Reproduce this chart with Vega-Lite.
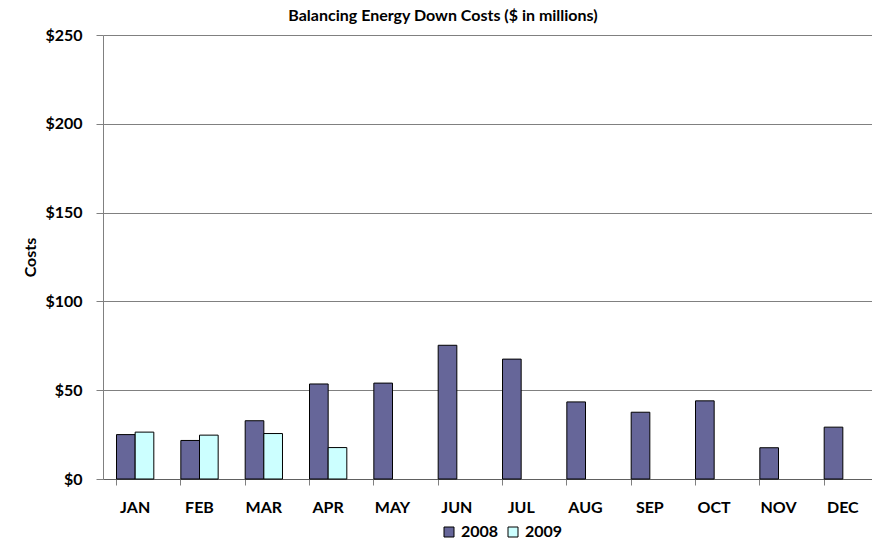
{
  "$schema": "https://vega.github.io/schema/vega-lite/v6.json",
  "autosize": "none",
  "width": 772,
  "height": 444,
  "padding": {"left": 103, "top": 35, "right": 0, "bottom": 63},
  "background": "white",
  "title": {
    "text": "Balancing Energy Down Costs ($ in millions)",
    "font": "Lato",
    "fontSize": 16,
    "fontWeight": "bold",
    "color": "black",
    "anchor": "middle",
    "dx": -46,
    "offset": 3
  },
  "data": {
    "values": [
      {"month": "JAN", "year": "2008", "cost": 25.0},
      {"month": "JAN", "year": "2009", "cost": 26.4},
      {"month": "FEB", "year": "2008", "cost": 21.7},
      {"month": "FEB", "year": "2009", "cost": 24.7},
      {"month": "MAR", "year": "2008", "cost": 32.8},
      {"month": "MAR", "year": "2009", "cost": 25.6},
      {"month": "APR", "year": "2008", "cost": 53.5},
      {"month": "APR", "year": "2009", "cost": 17.7},
      {"month": "MAY", "year": "2008", "cost": 54.0},
      {"month": "JUN", "year": "2008", "cost": 75.3},
      {"month": "JUL", "year": "2008", "cost": 67.5},
      {"month": "AUG", "year": "2008", "cost": 43.4},
      {"month": "SEP", "year": "2008", "cost": 37.6},
      {"month": "OCT", "year": "2008", "cost": 44.0},
      {"month": "NOV", "year": "2008", "cost": 17.6},
      {"month": "DEC", "year": "2008", "cost": 29.2}
    ]
  },
  "mark": {"type": "bar", "stroke": "black", "strokeWidth": 1},
  "encoding": {
    "x": {
      "field": "month",
      "type": "nominal",
      "sort": ["JAN","FEB","MAR","APR","MAY","JUN","JUL","AUG","SEP","OCT","NOV","DEC"],
      "scale": {"paddingInner": 0.42, "paddingOuter": 0.21},
      "axis": {
        "title": null,
        "labelAngle": 0,
        "bandPosition": 0,
        "labelFont": "Lato",
        "labelFontSize": 16,
        "labelFontWeight": "bold",
        "labelColor": "black",
        "labelPadding": 14,
        "tickColor": "#808080",
        "tickSize": 6,
        "domainColor": "#606060",
        "grid": false
      }
    },
    "xOffset": {"field": "year", "type": "nominal", "scale": {"paddingInner": 0, "paddingOuter": 0}},
    "y": {
      "field": "cost",
      "type": "quantitative",
      "scale": {"domain": [0, 250], "nice": false},
      "axis": {
        "title": "Costs",
        "titleFont": "Lato",
        "titleFontSize": 16,
        "titleFontWeight": "bold",
        "titleColor": "black",
        "titlePadding": 6,
        "values": [0, 50, 100, 150, 200, 250],
        "format": "$.0f",
        "labelFont": "Lato",
        "labelFontSize": 16,
        "labelFontWeight": "bold",
        "labelColor": "black",
        "labelPadding": 14,
        "tickColor": "#808080",
        "tickSize": 7,
        "domainColor": "#808080",
        "grid": true,
        "gridColor": "#808080",
        "gridWidth": 1
      }
    },
    "fill": {
      "field": "year",
      "type": "nominal",
      "scale": {"domain": ["2008", "2009"], "range": ["#666699", "#CCFFFF"]},
      "legend": {
        "title": null,
        "orient": "none",
        "direction": "horizontal",
        "legendX": 338,
        "legendY": 489,
        "padding": 0,
        "symbolType": "square",
        "symbolSize": 100,
        "symbolStrokeColor": "black",
        "symbolStrokeWidth": 1,
        "labelFont": "Lato",
        "labelFontSize": 16,
        "labelFontWeight": "bold",
        "labelColor": "black",
        "labelOffset": 4,
        "columnPadding": 6
      }
    }
  },
  "config": {"view": {"stroke": null}}
}
